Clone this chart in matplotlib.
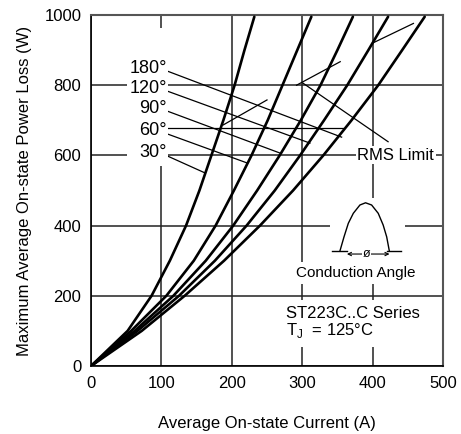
import matplotlib
matplotlib.use("Agg")
import matplotlib.pyplot as plt
from matplotlib.patches import Rectangle

plt.rcParams['font.family'] = ['Liberation Sans', 'DejaVu Sans']
plt.rcParams['mathtext.fontset'] = 'custom'
plt.rcParams['mathtext.rm'] = 'Liberation Sans'

# Curvas (corrente média A, perda W)
loss = [0, 100, 200, 300, 400, 500, 600, 700, 800, 900, 995]
cur_30 = [0, 52, 86, 112, 135, 154, 171, 188, 204, 218, 232]
cur_60 = [0, 57, 107, 146, 177, 203, 228, 251, 272, 293, 313]
cur_90 = [0, 62, 117, 163, 202, 236, 268, 298, 326, 350, 372]
cur_120 = [0, 66, 125, 176, 221, 261, 297, 331, 364, 394, 422]
cur_180 = [0, 72, 133, 189, 240, 287, 330, 370, 408, 442, 474]

# Rótulos dos ângulos e pontos onde as linhas de chamada tocam as curvas
angle_labels = ["180°", "120°", "90°", "60°", "30°"]
label_p = [849, 792, 735, 670, 607]
leader_i = [356, 311, 268, 221, 162]
leader_p = [652, 635, 607, 579, 550]

# Limite RMS (segmentos tracejados)
rms_i = [188, 250, 292, 354, 399, 458]
rms_p = [687, 758, 800, 867, 919, 976]

# Desenho do ângulo de condução
hump_i = [353.7, 359.4, 365.5, 372.6, 382, 390, 398.6, 408, 415, 420, 423.7]
hump_p = [328.4, 368, 406.5, 435, 458.7, 465, 458.7, 435, 401.7, 368, 328.4]

xticks = [0, 100, 200, 300, 400, 500]
yticks = [0, 200, 400, 600, 800, 1000]

fig = plt.figure(figsize=(4.61, 4.34), dpi=100)
ax = fig.add_axes([91/461, 68/434, 352/461, 351/434])
ax.set_xlim(0, 500)
ax.set_ylim(0, 1000)
ax.set_xticks(xticks)
ax.set_yticks(yticks)
ax.tick_params(length=0, labelsize=12, pad=7)
ax.set_axisbelow(True)
ax.grid(True, color='#222', lw=1.1)
for s in ['top', 'right']:
    ax.spines[s].set_color('#555')
    ax.spines[s].set_linewidth(1.5)
for s in ['left', 'bottom']:
    ax.spines[s].set_linewidth(1.2)

ax.set_xlabel("Average On-state Current (A)", fontsize=12, labelpad=18)
ax.set_ylabel("Maximum Average On-state Power Loss (W)", fontsize=12, labelpad=9)

# Áreas brancas que interrompem a grade
for (x0, y0, w, h) in [(51, 570, 58, 393), (339.5, 296, 106.5, 183),
                       (283, 234, 184, 62), (274, 54, 207, 134)]:
    ax.add_patch(Rectangle((x0, y0), w, h, facecolor='white', edgecolor='none', zorder=1))

for c in [cur_30, cur_60, cur_90, cur_120, cur_180]:
    ax.plot(c, loss, color='black', lw=1.9, zorder=3,
            solid_capstyle='round', solid_joinstyle='round')

for name, ly, ei, ep in zip(angle_labels, label_p, leader_i, leader_p):
    ax.text(108, ly, name, ha='right', va='center', fontsize=13, zorder=4,
            bbox=dict(facecolor='white', edgecolor='none', pad=1))
    ax.plot([110, ei], [ly - 10, ep], color='black', lw=0.9, zorder=2)
ax.plot([110, 358], [677, 677], color='black', lw=0.9, zorder=2)

for k in range(0, len(rms_i), 2):
    ax.plot(rms_i[k:k+2], rms_p[k:k+2], color='black', lw=0.9, zorder=2)
ax.plot([422, rms_i[2] + 9], [639, rms_p[2] + 6], color='black', lw=0.9, zorder=2)
ax.text(433, 601, "RMS Limit", ha='center', va='center', fontsize=12, zorder=4,
        bbox=dict(facecolor='white', edgecolor='none', pad=1))

ax.plot(hump_i, hump_p, color='black', lw=1.0, zorder=3)
ax.plot([342, 363.5], [328.4, 328.4], color='black', lw=1.0, zorder=3)
ax.plot([420, 441], [328.4, 328.4], color='black', lw=1.0, zorder=3)
ax.annotate("", xy=(363.5, 319), xytext=(424, 319),
            arrowprops=dict(arrowstyle='<->', lw=0.8, color='black',
                            shrinkA=0, shrinkB=0, mutation_scale=6), zorder=3)
ax.text(391, 318, "ø", ha='center', va='center', fontsize=9, zorder=4,
        bbox=dict(facecolor='white', edgecolor='none', pad=0.5))
ax.text(376, 265, "Conduction Angle", ha='center', va='center', fontsize=11, zorder=4)

ax.text(277, 150, "ST223C..C Series", ha='left', va='center', fontsize=12, zorder=4)
ax.text(277, 100, r"T$_\mathrm{J}$  = 125°C", ha='left', va='center', fontsize=12, zorder=4)

plt.savefig("out.png", dpi=100)
